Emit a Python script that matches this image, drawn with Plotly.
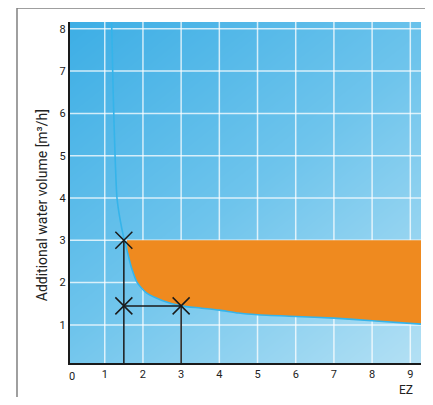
import plotly.graph_objects as go

# data
curve_x = [1.18, 1.22, 1.27, 1.32, 1.40, 1.50, 1.60, 1.70, 1.85, 2.10, 2.50, 3.00, 3.50, 4.00, 4.50, 5.00, 6.00, 7.00, 8.00, 9.28]
curve_y = [8.15, 6.50, 5.00, 4.00, 3.50, 3.05, 2.70, 2.35, 2.00, 1.75, 1.58, 1.45, 1.40, 1.35, 1.28, 1.24, 1.20, 1.16, 1.10, 1.02]
upper_limit = 3.0
orange_start = 1.58
marker_x = [1.5, 1.5, 3.0]
marker_y = [3.0, 1.45, 1.45]
x_ticks = [1, 2, 3, 4, 5, 6, 7, 8, 9]
y_ticks = [1, 2, 3, 4, 5, 6, 7, 8]
x_range = [0.09, 9.28]
y_range = [0.1, 8.16]
bg_corners = [[0.55, 1.0], [0.0, 0.45]]  # rows: bottom, top ; cols: left, right

FONT = "Liberation Sans Narrow, Arial Narrow, Roboto, sans-serif"

fig = go.Figure()

# background gradient
fig.add_trace(go.Heatmap(
    x=x_range, y=y_range, z=bg_corners, zsmooth="best", showscale=False,
    colorscale=[[0, "#3daee5"], [0.5, "#6ec4ec"], [1, "#b3e0f4"]], hoverinfo="skip"))

# gridlines
gx, gy = [], []
for t in x_ticks:
    gx += [t, t, None]
    gy += [y_range[0], y_range[1], None]
for t in y_ticks:
    gx += [x_range[0], x_range[1], None]
    gy += [t, t, None]
fig.add_trace(go.Scatter(x=gx, y=gy, mode="lines",
                         line=dict(color="rgba(255,255,255,0.75)", width=1.5), hoverinfo="skip"))

# orange area between curve and upper limit
ox = [x for x in curve_x if x >= orange_start]
oy = [y for x, y in zip(curve_x, curve_y) if x >= orange_start]
poly_x = [orange_start, x_range[1]] + ox[::-1]
poly_y = [upper_limit, upper_limit] + oy[::-1]
fig.add_trace(go.Scatter(x=poly_x, y=poly_y, fill="toself", mode="none",
                         fillcolor="#ef8a1f", hoverinfo="skip"))

# curve
fig.add_trace(go.Scatter(x=curve_x, y=curve_y, mode="lines",
                         line=dict(color="#35b4ea", width=1.6, shape="spline", smoothing=0.6)))

# black construction lines
lx = [marker_x[0], marker_x[0], None, marker_x[2], marker_x[2], None, marker_x[1], marker_x[2]]
ly = [y_range[0], marker_y[0], None, y_range[0], marker_y[2], None, marker_y[1], marker_y[2]]
fig.add_trace(go.Scatter(x=lx, y=ly, mode="lines", line=dict(color="#1a1a1a", width=1.5)))

# crosses
fig.add_trace(go.Scatter(x=marker_x, y=marker_y, mode="markers",
                         marker=dict(symbol="x-thin", size=17, line=dict(color="#1a1a1a", width=1.5))))

# outer frame
fig.add_shape(type="rect", xref="paper", yref="paper", x0=-0.151, x1=1.0199, y0=-0.14, y1=1.041,
              line=dict(color="#808080", width=1.5), fillcolor="rgba(0,0,0,0)", layer="below")

zero_paper = (0 - x_range[0]) / (x_range[1] - x_range[0])
fig.add_annotation(x=zero_paper, y=0, xref="paper", yref="paper", yshift=-5, text="0", showarrow=False,
                   yanchor="top", font=dict(family=FONT, size=11, color="#222"))
fig.add_annotation(x=0.982, y=-0.105, xref="paper", yref="paper", text="EZ", showarrow=False,
                   font=dict(family=FONT, size=12, color="#222"))
fig.add_annotation(x=-0.108, y=0.463, xref="paper", yref="paper", text="Additional water volume [m³/h]",
                   textangle=-90, showarrow=False, font=dict(family=FONT, size=14, color="#222"))

# page body has an 8px margin: the figure is sized and offset to compensate (no scrollbars)
fig.update_layout(
    width=425, height=389, margin=dict(l=62, r=12, t=14, b=34),
    paper_bgcolor="white", plot_bgcolor="#70c5ec", showlegend=False,
    font=dict(family=FONT, size=11, color="#222"),
    xaxis=dict(range=x_range, tickvals=x_ticks, showgrid=False, zeroline=False,
               showline=True, linecolor="#1a1a1a", linewidth=2, ticks=""),
    yaxis=dict(range=y_range, tickvals=y_ticks, showgrid=False, zeroline=False,
               showline=True, linecolor="#1a1a1a", linewidth=2, ticks=""),
)

fig.write_html("out.html")
